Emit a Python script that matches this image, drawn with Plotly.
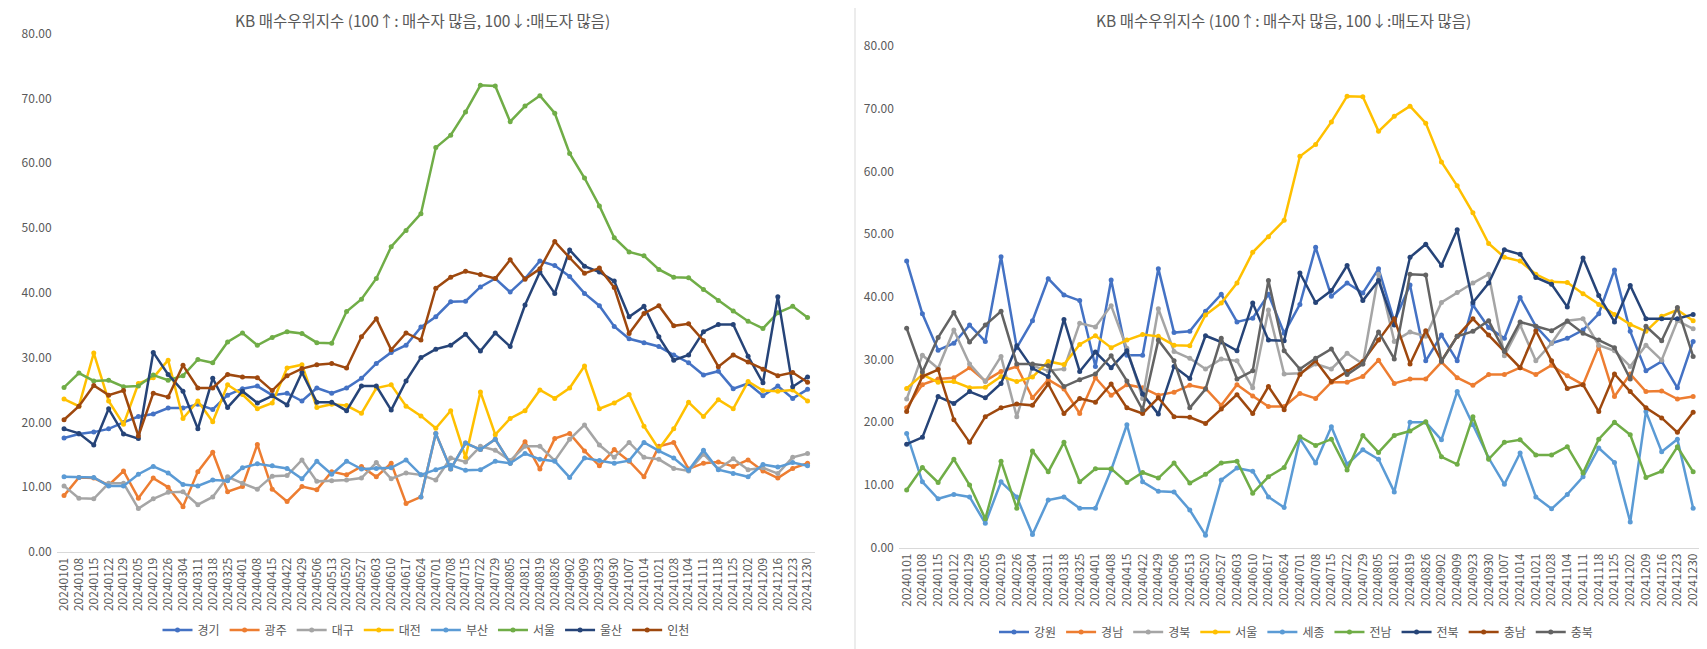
import plotly.graph_objects as go

# browser window size; the page body has a default 8px margin, so the figure is
# made 8px smaller and every page position below is converted with that offset
WIN_W, WIN_H = 1707, 649
OFF = 8
W, H = WIN_W - OFF, WIN_H - OFF

dates = ["20240101", "20240108", "20240115", "20240122", "20240129", "20240205", "20240219",
         "20240226", "20240304", "20240311", "20240318", "20240325", "20240401", "20240408",
         "20240415", "20240422", "20240429", "20240506", "20240513", "20240520", "20240527",
         "20240603", "20240610", "20240617", "20240624", "20240701", "20240708", "20240715",
         "20240722", "20240729", "20240805", "20240812", "20240819", "20240826", "20240902",
         "20240909", "20240923", "20240930", "20241007", "20241014", "20241021", "20241028",
         "20241104", "20241111", "20241118", "20241125", "20241202", "20241209", "20241216",
         "20241223", "20241230"]

# ---- left chart series ----
gyeonggi = [17.6, 18.2, 18.5, 19.0, 20.0, 20.9, 21.3, 22.2, 22.2, 22.8, 22.0, 24.2, 25.2, 25.6, 24.2, 24.5, 23.3,
            25.3, 24.5, 25.3, 26.8, 29.1, 30.8, 31.9, 34.7, 36.3, 38.6, 38.7, 40.9, 42.2, 40.1, 42.2, 44.9, 44.2,
            42.5, 39.9, 38.0, 34.8, 32.9, 32.3, 31.7, 30.4, 29.2, 27.3, 27.9, 25.2, 26.0, 24.1, 25.6, 23.7, 25.1]
gwangju = [8.7, 11.5, 11.4, 10.3, 12.5, 8.3, 11.4, 10.0, 7.0, 12.4, 15.4, 9.3, 10.1, 16.6, 9.7, 7.8, 10.1,
           9.6, 12.4, 11.9, 13.2, 11.6, 13.7, 7.5, 8.5, 18.3, 12.8, 16.8, 15.8, 17.4, 13.7, 17.0, 12.8, 17.5,
           18.3, 15.6, 13.3, 15.8, 14.0, 11.6, 16.3, 16.9, 12.8, 13.7, 13.9, 13.2, 14.2, 12.5, 11.4, 12.9, 13.7]
daegu = [10.2, 8.3, 8.2, 10.6, 10.6, 6.7, 8.2, 9.2, 9.3, 7.3, 8.5, 11.6, 10.6, 9.7, 11.7, 11.8, 14.2,
         10.9, 11.0, 11.1, 11.4, 13.8, 11.3, 12.2, 11.9, 11.1, 14.5, 13.9, 16.3, 15.7, 14.1, 16.3, 16.3, 14.1,
         17.4, 19.6, 16.5, 14.6, 16.9, 14.6, 14.3, 12.9, 12.5, 15.1, 12.8, 14.4, 12.7, 13.0, 12.1, 14.6, 15.2]
daejeon = [23.6, 22.5, 30.7, 23.3, 19.7, 26.0, 26.9, 29.6, 20.6, 23.3, 20.1, 25.8, 24.3, 22.1, 23.0, 28.4, 28.9,
           22.3, 22.8, 22.6, 21.4, 25.3, 25.8, 22.5, 21.0, 19.1, 21.8, 14.6, 24.7, 18.1, 20.6, 21.8, 25.0, 23.7,
           25.3, 28.7, 22.1, 23.0, 24.3, 19.4, 15.9, 19.0, 23.1, 20.9, 23.5, 22.1, 26.3, 24.9, 24.8, 25.0, 23.3]
busan = [11.6, 11.5, 11.5, 10.2, 10.2, 12.0, 13.2, 12.2, 10.4, 10.2, 11.1, 11.0, 13.0, 13.6, 13.3, 12.9, 11.3,
         14.0, 12.0, 14.0, 12.8, 12.9, 13.0, 14.2, 11.9, 12.7, 13.4, 12.6, 12.7, 14.0, 13.7, 15.2, 14.3, 14.0,
         11.5, 14.5, 14.1, 13.7, 14.1, 16.9, 15.6, 14.5, 12.6, 15.7, 12.7, 12.1, 11.6, 13.5, 13.1, 13.8, 13.3]
seoul = [25.4, 27.6, 26.4, 26.5, 25.5, 25.6, 27.3, 26.5, 27.2, 29.7, 29.2, 32.4, 33.8, 31.9, 33.1, 34.0, 33.7,
         32.3, 32.2, 37.1, 39.0, 42.2, 47.1, 49.6, 52.2, 62.4, 64.3, 67.9, 72.0, 71.9, 66.4, 68.8, 70.4, 67.7,
         61.5, 57.7, 53.4, 48.5, 46.3, 45.7, 43.6, 42.4, 42.3, 40.5, 38.8, 37.2, 35.6, 34.5, 36.9, 37.9, 36.2]
ulsan = [19.0, 18.3, 16.5, 22.1, 18.2, 17.5, 30.8, 27.4, 24.8, 19.0, 26.8, 22.3, 24.8, 23.0, 24.1, 22.7, 27.7,
         23.1, 23.1, 21.8, 25.6, 25.6, 21.9, 26.4, 30.0, 31.3, 31.9, 33.6, 31.0, 33.8, 31.7, 38.1, 43.2, 39.9,
         46.6, 44.1, 43.2, 41.8, 36.3, 37.9, 33.2, 29.6, 30.4, 34.0, 35.1, 35.1, 30.2, 26.1, 39.4, 25.5, 27.0]
incheon = [20.4, 22.5, 25.7, 24.2, 24.9, 17.9, 24.5, 23.9, 28.8, 25.3, 25.3, 27.4, 27.0, 26.9, 24.9, 27.2, 28.3,
           28.9, 29.1, 28.4, 33.2, 36.0, 31.2, 33.8, 32.7, 40.7, 42.4, 43.3, 42.8, 42.2, 45.1, 42.1, 43.7, 47.9,
           45.4, 43.0, 43.8, 40.8, 33.7, 36.8, 38.0, 34.9, 35.2, 32.6, 28.6, 30.4, 29.3, 28.2, 27.2, 27.7, 26.2]
# short light-blue segment visible over 광주 from 0624 to 0805
busan_overlay_dates = dates[24:31]
busan_overlay = gwangju[24:31]

# ---- right chart series ----
gangwon = [45.7, 37.3, 31.5, 32.6, 35.5, 32.9, 46.4, 31.9, 36.2, 42.9, 40.3, 39.4, 28.9, 42.7, 30.7, 30.7, 44.5,
           34.3, 34.5, 37.7, 40.4, 36.0, 36.6, 40.4, 34.2, 38.8, 47.9, 40.1, 42.2, 40.6, 44.5, 36.1, 41.9, 29.8,
           33.9, 29.8, 38.7, 35.1, 33.4, 39.9, 35.3, 32.6, 33.4, 34.7, 37.3, 44.3, 34.5, 28.2, 29.7, 25.5, 32.9]
gyeongnam = [22.3, 26.0, 26.9, 27.1, 28.7, 26.6, 28.1, 28.9, 23.9, 26.8, 25.3, 21.4, 27.1, 24.3, 26.0, 25.5, 24.3,
             24.8, 25.9, 25.4, 22.7, 26.0, 24.2, 22.5, 22.5, 24.6, 23.8, 26.4, 26.4, 27.3, 29.9, 26.2, 26.9, 26.9,
             29.6, 27.1, 25.9, 27.6, 27.6, 28.7, 27.6, 29.1, 27.4, 26.0, 32.1, 24.1, 27.7, 24.9, 25.0, 23.7, 24.1]
gyeongbuk = [23.7, 30.7, 28.6, 34.7, 29.3, 26.5, 30.5, 20.9, 29.0, 28.2, 28.5, 35.8, 35.2, 38.6, 31.8, 23.8, 38.1,
             31.3, 30.2, 28.5, 30.1, 29.8, 25.5, 37.9, 27.7, 27.8, 29.3, 28.5, 31.0, 29.3, 43.6, 32.9, 34.4, 33.7,
             39.1, 40.7, 42.2, 43.6, 30.6, 35.5, 29.8, 32.6, 36.2, 36.5, 32.3, 31.4, 28.9, 32.3, 29.9, 36.2, 34.9]
sejong = [18.2, 10.5, 7.8, 8.5, 8.1, 3.9, 10.5, 8.1, 2.1, 7.6, 8.1, 6.3, 6.3, 12.4, 19.6, 10.5, 9.0,
          8.9, 6.0, 2.0, 10.8, 12.7, 12.2, 8.1, 6.4, 17.4, 13.5, 19.3, 13.3, 15.6, 14.1, 8.9, 20.0, 20.0,
          17.2, 24.9, 19.6, 14.3, 10.1, 15.1, 8.1, 6.2, 8.5, 11.3, 15.9, 13.6, 4.1, 21.7, 15.3, 17.3, 6.3]
jeonnam = [9.2, 12.8, 10.4, 14.1, 10.0, 4.6, 13.8, 6.3, 15.4, 12.1, 16.8, 10.5, 12.6, 12.6, 10.4, 12.0, 11.1,
           13.5, 10.3, 11.7, 13.5, 13.8, 8.7, 11.3, 12.8, 17.7, 16.3, 17.3, 12.4, 17.9, 15.2, 17.9, 18.6, 20.1,
           14.5, 13.3, 20.9, 14.1, 16.8, 17.2, 14.8, 14.8, 16.1, 11.9, 17.3, 20.0, 18.0, 11.2, 12.2, 16.1, 12.1]
jeonbuk = [16.5, 17.6, 24.1, 23.0, 24.9, 23.9, 26.2, 32.2, 28.6, 27.3, 36.4, 28.1, 31.2, 28.7, 31.4, 24.5, 21.3,
           28.9, 27.0, 33.8, 32.8, 31.4, 39.0, 33.1, 33.0, 43.8, 39.1, 41.0, 45.0, 39.4, 42.6, 35.5, 46.3, 48.4,
           45.0, 50.7, 39.1, 42.2, 47.5, 46.8, 43.1, 42.0, 38.4, 46.2, 40.2, 36.0, 41.8, 36.5, 36.5, 36.5, 37.2]
chungnam = [21.7, 27.3, 28.4, 20.4, 16.8, 20.9, 22.3, 22.9, 22.7, 26.1, 21.4, 23.8, 23.2, 26.1, 22.3, 21.4, 23.9,
            20.9, 20.8, 19.8, 22.1, 24.4, 21.4, 25.7, 22.0, 27.6, 29.8, 26.5, 28.1, 29.7, 33.1, 36.5, 29.3, 34.6,
            29.8, 33.7, 36.5, 33.9, 31.4, 28.7, 34.6, 29.8, 25.4, 26.0, 21.7, 27.7, 24.9, 22.3, 20.7, 18.4, 21.6]
chungbuk = [35.0, 28.0, 33.5, 37.5, 32.8, 35.5, 37.7, 29.3, 29.3, 29.0, 25.7, 26.8, 27.7, 30.6, 26.6, 22.0, 33.1,
            29.8, 22.3, 25.3, 33.4, 26.9, 28.2, 42.6, 31.4, 28.5, 30.2, 31.7, 27.6, 29.3, 34.4, 30.1, 43.6, 43.5,
            29.7, 33.7, 34.5, 36.2, 31.3, 36.0, 35.3, 34.6, 36.1, 34.2, 33.1, 31.9, 26.9, 35.3, 33.0, 38.3, 30.5]

left_names = ["경기", "광주", "대구", "대전", "부산", "서울", "울산", "인천"]
left_values = [gyeonggi, gwangju, daegu, daejeon, busan, seoul, ulsan, incheon]
left_colors = ["#4472C4", "#ED7D31", "#A5A5A5", "#FFC000", "#5B9BD5", "#70AD47", "#264478", "#9E480E"]

right_names = ["강원", "경남", "경북", "서울", "세종", "전남", "전북", "충남", "충북"]
right_values = [gangwon, gyeongnam, gyeongbuk, seoul, sejong, jeonnam, jeonbuk, chungnam, chungbuk]
right_colors = ["#4472C4", "#ED7D31", "#A5A5A5", "#FFC000", "#5B9BD5", "#70AD47", "#264478", "#9E480E", "#636363"]

title_text = "KB 매수우위지수 (100↑: 매수자 많음, 100↓:매도자 많음)"
FONT = "Noto Sans CJK KR, Noto Sans, sans-serif"
TXT = "#595959"

fig = go.Figure()


def add_series(name, vals, color, xa, ya, legend, xs=None, showlegend=True):
    fig.add_trace(go.Scatter(
        x=xs if xs is not None else dates, y=vals, name=name, mode="lines+markers",
        line=dict(color=color, width=2.5), marker=dict(color=color, size=5),
        xaxis=xa, yaxis=ya, legend=legend, showlegend=showlegend, legendgroup=legend + name))


for n, v, c in zip(left_names, left_values, left_colors):
    add_series(n, v, c, "x", "y", "legend")
    if n == "부산":
        add_series(n, busan_overlay, c, "x", "y", "legend", xs=busan_overlay_dates, showlegend=False)

for n, v, c in zip(right_names, right_values, right_colors):
    add_series(n, v, c, "x2", "y2", "legend2")


def px_x(p):
    # page x (window pixels) -> paper fraction
    return (p - OFF) / W


def px_y(p):
    # page y (window pixels, from top) -> paper fraction
    return 1 - (p - OFF) / H


xcommon = dict(type="category", range=[-0.5, len(dates) - 0.5], tickangle=-90, automargin=False,
               tickfont=dict(size=12, color=TXT, family=FONT), showline=True, linecolor="#D9D9D9",
               linewidth=1, showgrid=False, zeroline=False, ticks="", fixedrange=True)
ycommon = dict(range=[0, 80], dtick=10, tickformat=".2f", showgrid=False, zeroline=False, showline=False,
               automargin=False, tickfont=dict(size=12, color=TXT, family=FONT), ticks="",
               ticklabelstandoff=4)

fig.update_layout(
    width=W, height=H, margin=dict(l=0, r=0, t=0, b=0, autoexpand=False),
    paper_bgcolor="white", plot_bgcolor="white",
    font=dict(family=FONT, color=TXT),
    xaxis=dict(domain=[px_x(56.6), px_x(815)], anchor="y", **xcommon),
    yaxis=dict(domain=[px_y(552), px_y(33.5)], anchor="x", **ycommon),
    xaxis2=dict(domain=[px_x(898.8), px_x(1701)], anchor="y2", **xcommon),
    yaxis2=dict(domain=[px_y(547.7), px_y(46)], anchor="x2", **ycommon),
    legend=dict(orientation="h", x=px_x(426), xanchor="center", y=px_y(630), yanchor="middle",
                font=dict(size=12, color=TXT, family=FONT), itemwidth=30, bgcolor="rgba(0,0,0,0)",
                traceorder="normal"),
    legend2=dict(orientation="h", x=px_x(1296), xanchor="center", y=px_y(632), yanchor="middle",
                 font=dict(size=12, color=TXT, family=FONT), itemwidth=30, bgcolor="rgba(0,0,0,0)",
                 traceorder="normal"),
    annotations=[
        dict(text=title_text, x=px_x(422), y=px_y(20), xref="paper", yref="paper", showarrow=False,
             xanchor="center", yanchor="middle", font=dict(size=15.5, color=TXT, family=FONT)),
        dict(text=title_text, x=px_x(1283), y=px_y(20), xref="paper", yref="paper", showarrow=False,
             xanchor="center", yanchor="middle", font=dict(size=15.5, color=TXT, family=FONT)),
    ],
    shapes=[dict(type="line", xref="paper", yref="paper", x0=px_x(855), x1=px_x(855), y0=0, y1=1,
                 line=dict(color="#D9D9D9", width=1))],
    showlegend=True,
)

fig.write_html("out.html")
